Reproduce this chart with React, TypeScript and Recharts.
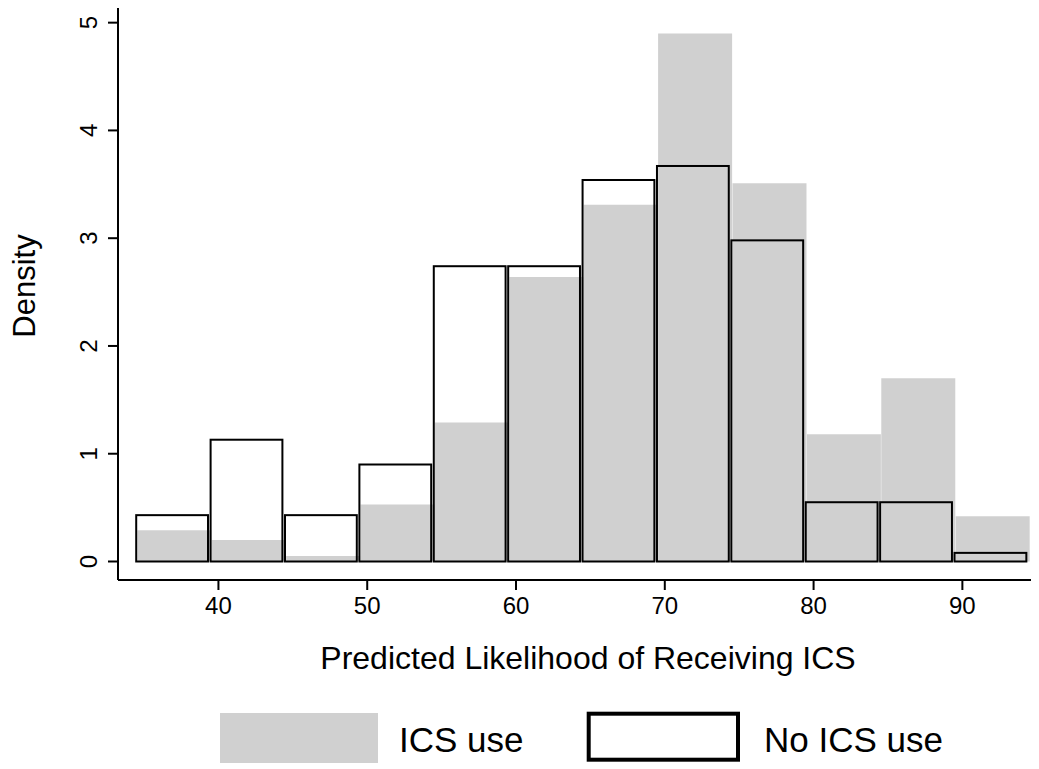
import { ComposedChart, Bar, XAxis, YAxis, Legend } from 'recharts';

// histogram bins (lower edge of each 5-point bin)
const bins = [35, 40, 45, 50, 55, 60, 65, 70, 75, 80, 85, 90];
// density, ICS users (grey) and non-users (outline)
const icsUse = [0.29, 0.2, 0.05, 0.53, 1.29, 2.64, 3.31, 4.9, 3.51, 1.18, 1.7, 0.42];
const noIcsUse = [0.43, 1.13, 0.43, 0.9, 2.74, 2.74, 3.54, 3.67, 2.98, 0.55, 0.55, 0.08];
const xTicks = [40, 50, 60, 70, 80, 90];
const yTicks = [0, 1, 2, 3, 4, 5];
const seriesNames = ['ICS use', 'No ICS use'];

const data = bins.map((bin, i) => ({ bin: String(bin), mid: bin, ics: icsUse[i], noIcs: noIcsUse[i] }));

const FONT = '"Liberation Sans", Arial, Helvetica, sans-serif';
const GREY = '#d0d0d0';
const W = 1031;
const H = 761;
const Y_AXIS_W = 110;
const PLOT_W = W - Y_AXIS_W;
const X_MIN = 33.25;
const X_MAX = 95.15;
const PX = PLOT_W / (X_MAX - X_MIN);

// where each histogram's bins start/end on the value axis
const pad = (start: number, end: number) => ({
  left: (start - X_MIN) * PX,
  right: (X_MAX - end) * PX,
});

const YTick = ({ x, y, payload }: any) => (
  <text transform={`translate(${x},${y}) rotate(-90)`} textAnchor="middle" fontSize={24} fontFamily={FONT} fill="#000">
    {payload.value}
  </text>
);

const OutlineBar = (props: any) => {
  const { x, y, width, height } = props;
  if (!height) return null;
  return <rect x={x + 1.1} y={y} width={width - 2.2} height={height} fill="none" stroke="#000" strokeWidth={2} />;
};

const renderLegend = () => (
  <svg width={W} height={69} style={{ display: 'block' }}>
    <rect x={212} y={13} width={158} height={50} fill={GREY} />
    <text x={391} y={52} fontSize={35} fontFamily={FONT} fill="#000">{seriesNames[0]}</text>
    <rect x={580.7} y={13.7} width={149.3} height={46} fill="none" stroke="#000" strokeWidth={4} />
    <text x={756} y={52} fontSize={35} fontFamily={FONT} fill="#000">{seriesNames[1]}</text>
  </svg>
);

export default function App() {
  return (
    <div style={{ width: W, height: H, fontFamily: FONT }}>
      <ComposedChart width={W} height={H} data={data} margin={{ top: 0, right: 0, bottom: 0, left: 0 }} barCategoryGap={0} barGap={0}>
        <XAxis xAxisId="grey" dataKey="bin" type="category" hide height={0} padding={pad(34.55, 94.55)} />
        <XAxis xAxisId="outline" dataKey="bin" type="category" hide height={0} padding={pad(34.4, 94.4)} />
        <XAxis
          xAxisId="value"
          dataKey="mid"
          type="number"
          scale="linear"
          domain={[X_MIN, X_MAX]}
          allowDataOverflow
          ticks={xTicks}
          interval={0}
          height={H - 572}
          tickSize={10}
          tickMargin={7}
          axisLine={{ stroke: '#000', strokeWidth: 2 }}
          tickLine={{ stroke: '#000', strokeWidth: 2 }}
          tick={{ fill: '#000', fontSize: 24, fontFamily: FONT }}
          label={() => (
            <text x={580} y={661} textAnchor="middle" fontSize={32} fontFamily={FONT} fill="#000">
              Predicted Likelihood of Receiving ICS
            </text>
          )}
        />
        <YAxis
          domain={[-0.1717, 5.136]}
          allowDataOverflow
          ticks={yTicks}
          width={Y_AXIS_W}
          tickSize={10}
          tickMargin={11}
          axisLine={{ stroke: '#000', strokeWidth: 2 }}
          tickLine={{ stroke: '#000', strokeWidth: 2 }}
          tick={<YTick />}
          label={() => (
            <text transform="translate(27,278) rotate(-90)" textAnchor="middle" fontSize={31} fontFamily={FONT} fill="#000">
              Density
            </text>
          )}
        />
        <Bar xAxisId="grey" dataKey="ics" fill={GREY} isAnimationActive={false} />
        <Bar xAxisId="outline" dataKey="noIcs" shape={<OutlineBar />} isAnimationActive={false} />
        <Legend
          layout="horizontal"
          verticalAlign="middle"
          align="center"
          content={renderLegend}
          wrapperStyle={{ top: 692, left: 0, width: W, height: 69 }}
        />
      </ComposedChart>
    </div>
  );
}
